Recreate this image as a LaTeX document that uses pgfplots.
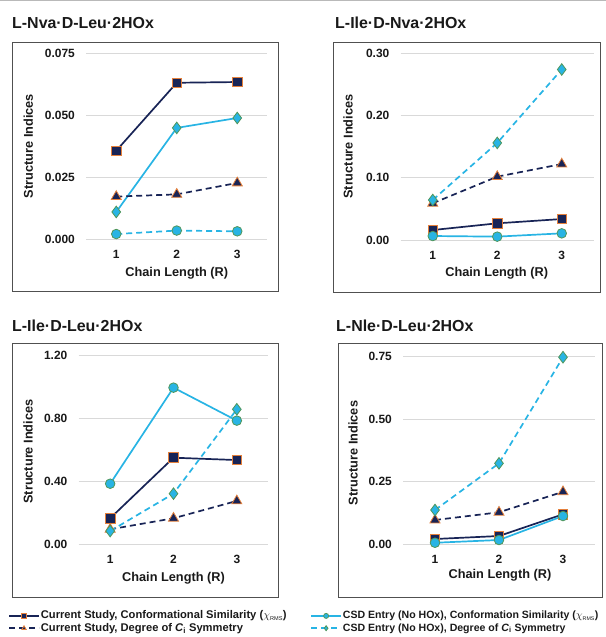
\documentclass[border=0pt]{standalone}
\usepackage{fontspec}
\setmainfont{Liberation Sans}
\usepackage{pgfplots}
\pgfplotsset{compat=1.18}

\definecolor{navy}{RGB}{24,36,86}
\definecolor{sky}{RGB}{40,180,228}
\definecolor{edgeor}{RGB}{228,128,60}
\definecolor{edgegr}{RGB}{80,150,90}
\definecolor{gridc}{RGB}{217,217,217}
\definecolor{framec}{RGB}{80,80,80}
\definecolor{txt}{RGB}{25,25,25}

\pgfplotsset{
  panel/.style={
    scale only axis, clip=false,
    xmin=0.5, xmax=3.5, ymin=0,
    xtick={1,2,3},
    ymajorgrids, grid style={gridc, line width=0.8bp},
    axis line style={draw=none}, major tick length=0pt,
    scaled y ticks=false,
    /pgf/number format/assume math mode=true,
    tick label style={font=\fontsize{12}{14}\selectfont\bfseries, text=txt},
    yticklabel style={inner sep=0pt, xshift=-11bp,
      /pgf/number format/fixed, /pgf/number format/fixed zerofill,
      /pgf/number format/precision=2},
    xticklabel style={inner sep=0pt, yshift=-11bp},
    label style={font=\fontsize{12.8}{15}\selectfont\bfseries, text=txt},
    xlabel={Chain Length (R)}, ylabel={Structure Indices},
    legend style={draw=none, fill=none, font=\fontsize{11.2}{13}\selectfont\bfseries,
      anchor=north west, inner sep=0pt, row sep=0bp,
      nodes={inner sep=1bp, text height=8bp, text depth=2.3bp, text=txt}},
    legend cell align=left,
    legend image code/.code={\draw[mark repeat=2, mark phase=2, #1, mark size=2.5bp]
      plot coordinates {(0bp,0bp) (15bp,0bp) (30bp,0bp)};},
  },
  curconf/.style={navy, line width=1.7bp, mark=square*, mark size=4.8bp,
    mark options={solid, fill=navy, draw=edgeor, line width=0.8bp}},
  cursym/.style={navy, line width=1.7bp, dash pattern=on 6bp off 4bp, mark=triangle*, mark size=5.8bp,
    mark options={solid, fill=navy, draw=edgeor, line width=0.8bp}},
  csdconf/.style={sky, line width=1.7bp, mark=*, mark size=4.8bp,
    mark options={solid, fill=sky, draw=edgegr, line width=0.8bp}},
  csdsym/.style={sky, line width=1.7bp, dash pattern=on 6bp off 4bp, mark=diamond*, mark size=5.8bp,
    mark options={solid, fill=sky, draw=edgegr, line width=0.8bp}},
}

\begin{document}
\begin{tikzpicture}
\path[use as bounding box] (0bp,0bp) rectangle (606bp,637bp);
\draw[gray!55, line width=1bp] (0bp,636bp) -- (606bp,636bp);

% frames and titles
\draw[framec, line width=0.9bp] (12bp,346bp) rectangle (278bp,595bp);
\draw[framec, line width=0.9bp] (333bp,345bp) rectangle (600bp,595bp);
\draw[framec, line width=0.9bp] (12bp,40bp) rectangle (278bp,294bp);
\draw[framec, line width=0.9bp] (338bp,40bp) rectangle (602bp,294bp);
\begin{scope}[every node/.style={anchor=base west, inner sep=0pt, text=txt,
    font=\fontsize{16}{19}\selectfont\bfseries}]
  \node at (12bp,608.7bp) {L-Nva·D-Leu·2HOx};
  \node at (335bp,608.7bp) {L-Ile·D-Nva·2HOx};
  \node at (12bp,305.3bp) {L-Ile·D-Leu·2HOx};
  \node at (336bp,305.3bp) {L-Nle·D-Leu·2HOx};
\end{scope}

% L-Nva.D-Leu.2HOx
\begin{axis}[panel, at={(86bp,398bp)}, anchor=south west,
    width=181.5bp, height=186bp, ymax=0.075,
    ytick={0,0.025,0.05,0.075},
    yticklabel style={/pgf/number format/precision=3},
    xlabel style={at={(axis description cs:0.5,-0.184)}, anchor=center},
    ylabel style={at={(axis description cs:-0.318,0.5)}, anchor=center}]
  \addplot[curconf] coordinates {(1,0.0356) (2,0.0630) (3,0.0633)};
  \addplot[csdconf, mark=diamond*, mark size=5.8bp] coordinates {(1,0.0109) (2,0.0448) (3,0.0488)};
  \addplot[cursym] coordinates {(1,0.0171) (2,0.0180) (3,0.0226)};
  \addplot[csdsym, mark=*, mark size=4.8bp] coordinates {(1,0.0020) (2,0.0034) (3,0.0031)};
\end{axis}

% L-Ile.D-Nva.2HOx
\begin{axis}[panel, at={(400.5bp,397bp)}, anchor=south west,
    width=193.5bp, height=186.7bp, ymax=0.30,
    ytick={0,0.1,0.2,0.3},
    xlabel style={at={(axis description cs:0.497,-0.178)}, anchor=center},
    ylabel style={at={(axis description cs:-0.271,0.5)}, anchor=center}]
  \addplot[curconf] coordinates {(1,0.016) (2,0.0268) (3,0.0337)};
  \addplot[csdconf] coordinates {(1,0.0064) (2,0.0054) (3,0.0107)};
  \addplot[cursym] coordinates {(1,0.059) (2,0.1018) (3,0.122)};
  \addplot[csdsym] coordinates {(1,0.0643) (2,0.156) (3,0.274)};
\end{axis}

% L-Ile.D-Leu.2HOx
\begin{axis}[panel, at={(78.5bp,92.7bp)}, anchor=south west,
    width=190bp, height=189.3bp, ymax=1.2,
    ytick={0,0.4,0.8,1.2},
    xlabel style={at={(axis description cs:0.5,-0.18)}, anchor=center},
    ylabel style={at={(axis description cs:-0.266,0.49)}, anchor=center},
    legend style={at={(axis description cs:-0.371,-0.345)}}]
  \addplot[curconf] coordinates {(1,0.165) (2,0.549) (3,0.534)};
  \addlegendentry{Current Study, Conformational Similarity ($\chi_{\scriptscriptstyle\mathrm{RMS}}$)}
  \addplot[cursym] coordinates {(1,0.095) (2,0.165) (3,0.275)};
  \addlegendentry{Current Study, Degree of {\itshape C}\textsubscript{i} Symmetry}
  \addplot[csdconf, forget plot] coordinates {(1,0.384) (2,0.993) (3,0.784)};
  \addplot[csdsym, forget plot] coordinates {(1,0.084) (2,0.321) (3,0.856)};
\end{axis}

% L-Nle.D-Leu.2HOx
\begin{axis}[panel, at={(403bp,93bp)}, anchor=south west,
    width=192bp, height=187.3bp, ymax=0.75,
    ytick={0,0.25,0.5,0.75},
    xlabel style={at={(axis description cs:0.505,-0.166)}, anchor=center},
    ylabel style={at={(axis description cs:-0.26,0.486)}, anchor=center},
    legend style={at={(axis description cs:-0.484,-0.350)},
      font=\fontsize{10.6}{13}\selectfont\bfseries}]
  \addplot[curconf, forget plot] coordinates {(1,0.020) (2,0.032) (3,0.119)};
  \addplot[cursym, forget plot] coordinates {(1,0.096) (2,0.127) (3,0.209)};
  \addplot[csdconf] coordinates {(1,0.005) (2,0.016) (3,0.112)};
  \addlegendentry{CSD Entry (No HOx), Conformation Similarity ($\chi_{\scriptscriptstyle\mathrm{RMS}}$)}
  \addplot[csdsym] coordinates {(1,0.136) (2,0.323) (3,0.748)};
  \addlegendentry{CSD Entry (No HOx), Degree of {\itshape C}\textsubscript{i} Symmetry}
\end{axis}
\end{tikzpicture}
\end{document}
